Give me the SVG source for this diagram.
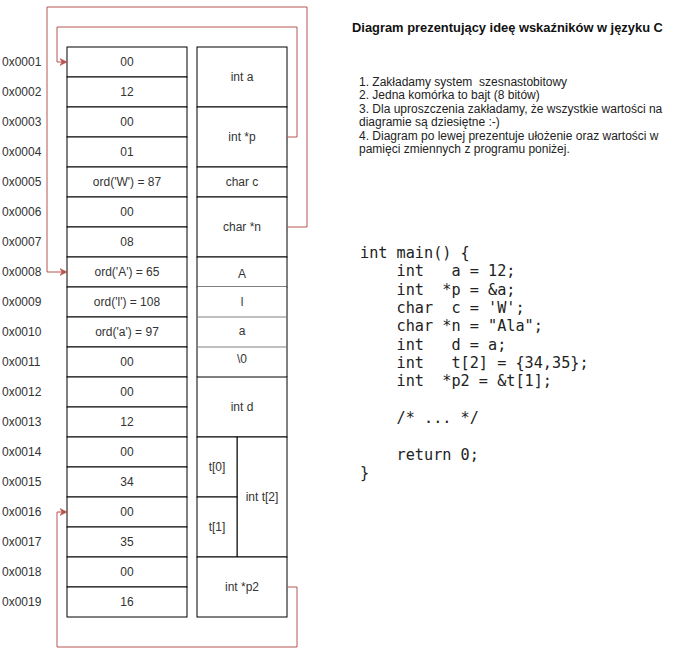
<svg xmlns="http://www.w3.org/2000/svg" width="688" height="656" viewBox="0 0 688 656">
<style>
.cell{fill:#fff;stroke:#000;stroke-width:1}
.t{font-family:"Liberation Sans",Arial,sans-serif;font-size:12px;fill:#333;text-anchor:middle;dominant-baseline:central}
.addr{font-family:"Liberation Sans",Arial,sans-serif;font-size:12px;fill:#333;dominant-baseline:central}
.note{font-family:"Liberation Sans",Arial,sans-serif;font-size:12px;fill:#222;white-space:pre}
.title{font-family:"Liberation Sans",Arial,sans-serif;font-size:12.9px;font-weight:bold;fill:#111}
.code{font-family:"DejaVu Sans Mono","Liberation Mono",monospace;font-size:15.2px;fill:#222;white-space:pre}
.conn{fill:none;stroke:#b85450;stroke-width:1}
</style>
<defs>
<marker id="arr" markerWidth="8" markerHeight="8" refX="7" refY="4" orient="auto" markerUnits="userSpaceOnUse">
<path d="M0,0.5 L7,4 L0,7.5 L2,4 Z" fill="#b85450" stroke="#b85450" stroke-width="0.5"/>
</marker>
</defs>

<g id="addresses">
<text class="addr" x="2" y="62">0x0001</text>
<text class="addr" x="2" y="92">0x0002</text>
<text class="addr" x="2" y="122">0x0003</text>
<text class="addr" x="2" y="152">0x0004</text>
<text class="addr" x="2" y="182">0x0005</text>
<text class="addr" x="2" y="212">0x0006</text>
<text class="addr" x="2" y="242">0x0007</text>
<text class="addr" x="2" y="272">0x0008</text>
<text class="addr" x="2" y="302">0x0009</text>
<text class="addr" x="2" y="332">0x0010</text>
<text class="addr" x="2" y="362">0x0011</text>
<text class="addr" x="2" y="392">0x0012</text>
<text class="addr" x="2" y="422">0x0013</text>
<text class="addr" x="2" y="452">0x0014</text>
<text class="addr" x="2" y="482">0x0015</text>
<text class="addr" x="2" y="512">0x0016</text>
<text class="addr" x="2" y="542">0x0017</text>
<text class="addr" x="2" y="572">0x0018</text>
<text class="addr" x="2" y="602">0x0019</text>
</g>

<g id="memory">
<g id="m1"><rect class="cell" x="67" y="47" width="120" height="30"/><text class="t" x="127" y="62">00</text></g>
<g id="m2"><rect class="cell" x="67" y="77" width="120" height="30"/><text class="t" x="127" y="92">12</text></g>
<g id="m3"><rect class="cell" x="67" y="107" width="120" height="30"/><text class="t" x="127" y="122">00</text></g>
<g id="m4"><rect class="cell" x="67" y="137" width="120" height="30"/><text class="t" x="127" y="152">01</text></g>
<g id="m5"><rect class="cell" x="67" y="167" width="120" height="30"/><text class="t" x="127" y="182">ord('W') = 87</text></g>
<g id="m6"><rect class="cell" x="67" y="197" width="120" height="30"/><text class="t" x="127" y="212">00</text></g>
<g id="m7"><rect class="cell" x="67" y="227" width="120" height="30"/><text class="t" x="127" y="242">08</text></g>
<g id="m8"><rect class="cell" x="67" y="257" width="120" height="30"/><text class="t" x="127" y="272">ord('A') = 65</text></g>
<g id="m9"><rect class="cell" x="67" y="287" width="120" height="30"/><text class="t" x="127" y="302">ord('l') = 108</text></g>
<g id="m10"><rect class="cell" x="67" y="317" width="120" height="30"/><text class="t" x="127" y="332">ord('a') = 97</text></g>
<g id="m11"><rect class="cell" x="67" y="347" width="120" height="30"/><text class="t" x="127" y="362">00</text></g>
<g id="m12"><rect class="cell" x="67" y="377" width="120" height="30"/><text class="t" x="127" y="392">00</text></g>
<g id="m13"><rect class="cell" x="67" y="407" width="120" height="30"/><text class="t" x="127" y="422">12</text></g>
<g id="m14"><rect class="cell" x="67" y="437" width="120" height="30"/><text class="t" x="127" y="452">00</text></g>
<g id="m15"><rect class="cell" x="67" y="467" width="120" height="30"/><text class="t" x="127" y="482">34</text></g>
<g id="m16"><rect class="cell" x="67" y="497" width="120" height="30"/><text class="t" x="127" y="512">00</text></g>
<g id="m17"><rect class="cell" x="67" y="527" width="120" height="30"/><text class="t" x="127" y="542">35</text></g>
<g id="m18"><rect class="cell" x="67" y="557" width="120" height="30"/><text class="t" x="127" y="572">00</text></g>
<g id="m19"><rect class="cell" x="67" y="587" width="120" height="30"/><text class="t" x="127" y="602">16</text></g>
</g>

<g id="variables">
<g id="v_a"><rect class="cell" x="197" y="47" width="90" height="60"/><text class="t" x="242" y="77">int a</text></g>
<g id="v_p"><rect class="cell" x="197" y="107" width="90" height="60"/><text class="t" x="242" y="137">int *p</text></g>
<g id="v_c"><rect class="cell" x="197" y="167" width="90" height="30"/><text class="t" x="242" y="182">char c</text></g>
<g id="v_n"><rect class="cell" x="197" y="197" width="90" height="60"/><text class="t" x="242" y="227">char *n</text></g>
<g id="v_A"><rect class="cell" x="197" y="257" width="90" height="30"/><text class="t" x="242" y="274">A</text></g>
<g id="v_l"><rect x="197" y="287" width="90" height="30" fill="#fff"/><text class="t" x="242" y="302">l</text></g>
<g id="v_a2"><rect x="197" y="317" width="90" height="30" fill="#fff"/><text class="t" x="242" y="331">a</text></g>
<g id="v_0"><rect x="197" y="347" width="90" height="30" fill="#fff"/><text class="t" x="242" y="359">\0</text></g>
<g id="str_border">
<path d="M197,287 V377 M287,287 V377" stroke="#000" fill="none"/>
<path d="M197,317 H287 M197,347 H287" stroke="#808080" stroke-width="1.2" fill="none"/>
</g>
<g id="v_d"><rect class="cell" x="197" y="377" width="90" height="60"/><text class="t" x="242" y="407">int d</text></g>
<g id="v_t"><rect class="cell" x="237" y="437" width="50" height="120"/><text class="t" x="262" y="497">int t[2]</text></g>
<g id="v_t0"><rect class="cell" x="197" y="437" width="40" height="60"/><text class="t" x="217" y="467">t[0]</text></g>
<g id="v_t1"><rect class="cell" x="197" y="497" width="40" height="60"/><text class="t" x="217" y="527">t[1]</text></g>
<g id="v_p2"><rect class="cell" x="197" y="557" width="90" height="60"/><text class="t" x="242" y="587">int *p2</text></g>
</g>

<g id="connectors">
<path class="conn" d="M287,137 H297 V27 H57 V62 H67" marker-end="url(#arr)"/>
<path class="conn" d="M287,227 H307 V7 H47 V272 H67" marker-end="url(#arr)"/>
<path class="conn" d="M287,587 H297 V647 H57 V512 H67" marker-end="url(#arr)"/>
</g>

<g id="title"><text class="title" x="352" y="32">Diagram prezentujący ideę wskaźników w języku C</text></g>

<g id="notes" xml:space="preserve">
<text class="note" x="359" y="86">1. Zakładamy system  szesnastobitowy</text>
<text class="note" x="359" y="99">2. Jedna komórka to bajt (8 bitów)</text>
<text class="note" x="359" y="113">3. Dla uproszczenia zakładamy, że wszystkie wartości na</text>
<text class="note" x="359" y="126">diagramie są dziesiętne :-)</text>
<text class="note" x="359" y="140">4. Diagram po lewej prezentuje ułożenie oraz wartości w</text>
<text class="note" x="359" y="153">pamięci zmiennych z programu poniżej.</text>
</g>

<g id="code" xml:space="preserve">
<text class="code" x="360" y="258">int main() {</text>
<text class="code" x="360" y="276">    int   a = 12;</text>
<text class="code" x="360" y="295">    int  *p = &amp;a;</text>
<text class="code" x="360" y="313">    char  c = 'W';</text>
<text class="code" x="360" y="331">    char *n = "Ala";</text>
<text class="code" x="360" y="350">    int   d = a;</text>
<text class="code" x="360" y="368">    int   t[2] = {34,35};</text>
<text class="code" x="360" y="386">    int  *p2 = &amp;t[1];</text>
<text class="code" x="360" y="423">    /* ... */</text>
<text class="code" x="360" y="460">    return 0;</text>
<text class="code" x="360" y="478">}</text>
</g>
</svg>
